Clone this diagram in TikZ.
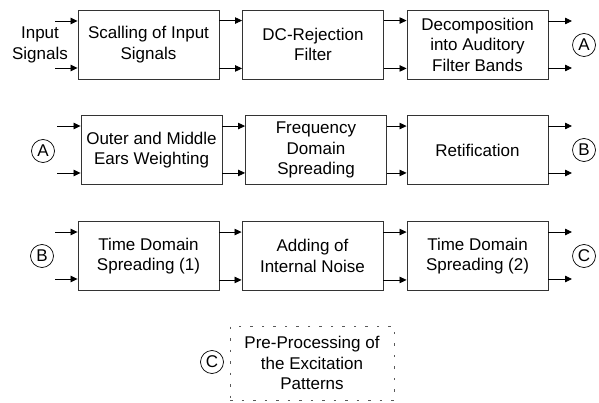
\documentclass[tikz,border=0pt]{standalone}
\usepackage{fontspec}
\setmainfont{Liberation Sans}
\usetikzlibrary{arrows.meta,calc}
\tikzset{
  blk/.style={draw=black!80, line width=0.9pt, minimum width=141pt, minimum height=69pt, inner sep=0pt, align=center, font=\fontsize{17}{20.5}\selectfont},
  dblk/.style={draw=black!65, line width=0.9pt, dash pattern=on 2.5pt off 9pt, minimum width=164pt, minimum height=74pt, inner sep=0pt, align=center, font=\fontsize{17}{20.5}\selectfont},
  conn/.style={circle, draw=black, line width=0.7pt, minimum size=23pt, inner sep=0pt, font=\fontsize{17}{20}\selectfont},
  arr/.style={draw=black, line width=0.8pt, -{Triangle[length=7pt,width=6.5pt]}},
  lbl/.style={align=center, inner sep=0pt, font=\fontsize{17}{20.5}\selectfont}
}
\begin{document}
\begin{tikzpicture}[x=1pt,y=-1pt]
\useasboundingbox (0,0) rectangle (599,403);
% row 1
\node[lbl] (in) at (40,45) {Input\\Signals};
\node[blk] (a1) at (148.5,44.5) {Scalling of Input\\Signals};
\node[blk] (a2) at (313,44.5) {DC-Rejection\\Filter};
\node[blk] (a3) at (477.5,44.5) {Decomposition\\into Auditory\\Filter Bands};
\node[conn] (cA1) at (584,45) {A};
\coordinate (i1t) at (55,21);
\coordinate (i1b) at (55,68);
\coordinate (o1t) at (572,21);
\coordinate (o1b) at (572,68);
% row 2
\node[conn] (cA2) at (43,151) {A};
\node[blk] (b1) at (151.5,150) {Outer and Middle\\Ears Weighting};
\node[blk] (b2) at (316,150) {Frequency\\Domain\\Spreading};
\node[blk] (b3) at (477.5,150) {Retification};
\node[conn] (cB1) at (584,150) {B};
\coordinate (i2t) at (57,126);
\coordinate (i2b) at (57,173);
\coordinate (o2t) at (572,126);
\coordinate (o2b) at (572,173);
% row 3
\node[conn] (cB2) at (42,256) {B};
\node[blk] (c1) at (148.5,256) {Time Domain\\Spreading (1)};
\node[blk] (c2) at (312.5,256) {Adding of\\Internal Noise};
\node[blk] (c3) at (477.5,256) {Time Domain\\Spreading (2)};
\node[conn] (cC1) at (584,256) {C};
\coordinate (i3t) at (55,232);
\coordinate (i3b) at (55,279);
\coordinate (o3t) at (572,232);
\coordinate (o3b) at (572,279);
% row 4
\node[conn] (cC2) at (212,362) {C};
\node[dblk] (d1) at (312,363) {Pre-Processing of\\the Excitation\\Patterns};
% connectors row 1
\draw[arr] (i1t) -- (i1t -| a1.west);
\draw[arr] (i1b) -- (i1b -| a1.west);
\draw[arr] ([yshift=-11pt]a1.north east) -- ([yshift=-11pt]a2.north west);
\draw[arr] ([yshift=11pt]a1.south east) -- ([yshift=11pt]a2.south west);
\draw[arr] ([yshift=-11pt]a2.north east) -- ([yshift=-11pt]a3.north west);
\draw[arr] ([yshift=11pt]a2.south east) -- ([yshift=11pt]a3.south west);
\draw[arr] (o1t -| a3.east) -- (o1t);
\draw[arr] (o1b -| a3.east) -- (o1b);
% connectors row 2
\draw[arr] (i2t) -- (i2t -| b1.west);
\draw[arr] (i2b) -- (i2b -| b1.west);
\draw[arr] ([yshift=-11pt]b1.north east) -- ([yshift=-11pt]b2.north west);
\draw[arr] ([yshift=12pt]b1.south east) -- ([yshift=12pt]b2.south west);
\draw[arr] ([yshift=-11pt]b2.north east) -- ([yshift=-11pt]b3.north west);
\draw[arr] ([yshift=12pt]b2.south east) -- ([yshift=12pt]b3.south west);
\draw[arr] (o2t -| b3.east) -- (o2t);
\draw[arr] (o2b -| b3.east) -- (o2b);
% connectors row 3
\draw[arr] (i3t) -- (i3t -| c1.west);
\draw[arr] (i3b) -- (i3b -| c1.west);
\draw[arr] ([yshift=-11pt]c1.north east) -- ([yshift=-11pt]c2.north west);
\draw[arr] ([yshift=11pt]c1.south east) -- ([yshift=11pt]c2.south west);
\draw[arr] ([yshift=-11pt]c2.north east) -- ([yshift=-11pt]c3.north west);
\draw[arr] ([yshift=11pt]c2.south east) -- ([yshift=11pt]c3.south west);
\draw[arr] (o3t -| c3.east) -- (o3t);
\draw[arr] (o3b -| c3.east) -- (o3b);
\end{tikzpicture}
\end{document}
